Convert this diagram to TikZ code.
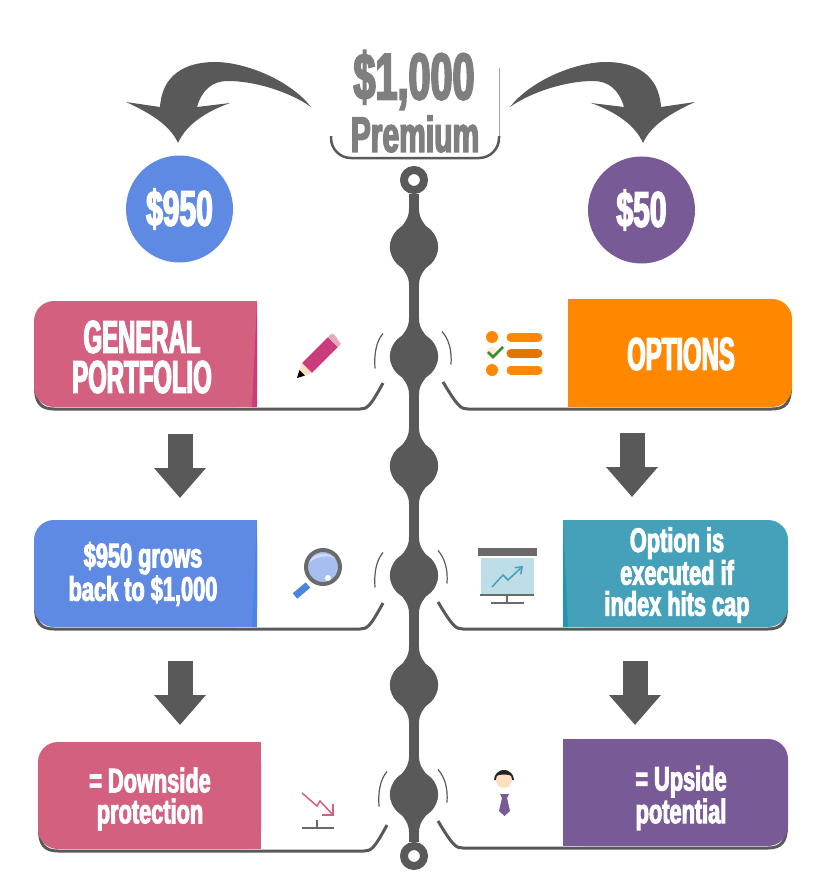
\documentclass[tikz,border=0pt]{standalone}
\usepackage{fontspec}
\usetikzlibrary{arrows.meta,positioning}
\newfontfamily\impact[FakeStretch=0.6,FakeBold=2.8]{Liberation Sans Bold}
\newfontfamily\impactcaps[FakeStretch=0.52,FakeBold=2.8]{Liberation Sans Bold}
\newfontfamily\impactwide[FakeStretch=0.64,FakeBold=2.8]{Liberation Sans Bold}

\definecolor{spinegray}{HTML}{595959}
\definecolor{titlegray}{HTML}{7F7F7F}
\definecolor{rosepanel}{HTML}{D4607F}
\definecolor{rosedark}{HTML}{CB3C7C}
\definecolor{bluepanel}{HTML}{5F8AE3}
\definecolor{bluedark}{HTML}{4A85DF}
\definecolor{orangepanel}{HTML}{FF8800}
\definecolor{tealpanel}{HTML}{45A0BA}
\definecolor{tealdark}{HTML}{1F97AE}
\definecolor{purplepanel}{HTML}{785A96}

% x, right, top, bottom, colour
\newcommand{\leftpanel}[5]{
  \draw[rail] (#1+1.5,#4-20) .. controls (#1+1.5,#4-5) and (#1+6,#4+2) .. (#1+20,#4+2) -- (#2+103,#4+2)
     .. controls (#2+110,#4+2) and (#2+113,#4) .. (#2+126,#4-24);
  \fill[#5,rounded corners=20pt] (#1,#3) rectangle (#2,#4);
  \fill[#5] (#1+30,#3) rectangle (#2,#4);
}
\newcommand{\rightpanel}[5]{
  \draw[rail] (#2-1.5,#4-20) .. controls (#2-1.5,#4-5) and (#2-6,#4+2) .. (#2-20,#4+2) -- (#1-100,#4+2)
     .. controls (#1-107,#4+2) and (#1-110,#4) .. (#1-125,#4-25);
  \fill[#5,rounded corners=20pt] (#1,#3) rectangle (#2,#4);
  \fill[#5] (#1,#3) rectangle (#2-30,#4);
}
% neck of a bead, both ends
\newcommand{\taper}[1]{
  \fill[spinegray] (#1.west) .. controls +(0,-15) and ([shift={(-5,-20)}]#1.center) .. ([shift={(-5,-38)}]#1.center)
     -- ([shift={(5,-38)}]#1.center) .. controls ([shift={(5,-20)}]#1.center) and ([shift={(24,-15)}]#1.center) .. (#1.east)
     .. controls +(0,15) and ([shift={(5,20)}]#1.center) .. ([shift={(5,38)}]#1.center)
     -- ([shift={(-5,38)}]#1.center) .. controls ([shift={(-5,20)}]#1.center) and ([shift={(-24,15)}]#1.center) .. (#1.west);
}
\newcommand{\swoosh}{(311,107) .. controls (290,80) and (245,62) .. (215,62)
   .. controls (185,62) and (162,75) .. (160,107) -- (126,102)
   .. controls (150,113) and (170,125) .. (178,143)
   .. controls (186,125) and (205,112) .. (230,103) -- (197,107)
   .. controls (202,90) and (212,81) .. (228,81)
   .. controls (255,81) and (290,92) .. (311,107) -- cycle}

\begin{document}
\begin{tikzpicture}[x=1pt,y=-1pt,node distance=109.5pt,
                    every node/.style={inner sep=0pt,align=center,text=white}]
  \tikzstyle{bead}=[circle,fill=spinegray,minimum size=48pt]
  \tikzstyle{ring}=[circle,draw=spinegray,line width=8pt,fill=white,minimum size=20pt]
  \tikzstyle{spine}=[draw=spinegray,line width=10pt]
  \tikzstyle{rail}=[draw=spinegray,line width=3pt]
  \tikzstyle{arcline}=[draw=spinegray,line width=1.2pt]
  \tikzstyle{blockarrow}=[draw=spinegray,line width=25pt,-{Triangle[width=50pt,length=30pt,fill=spinegray]}]
  \tikzstyle{bigtext}=[font=\impactcaps\fontsize{46}{40}\selectfont]
  \tikzstyle{smalltext}=[font=\impactwide\fontsize{34}{31}\selectfont]
  \tikzstyle{money}=[circle,minimum size=107pt,font=\impact\fontsize{50}{50}\selectfont]

  \useasboundingbox (0,0) rectangle (834,878);

  % top of the figure
  \draw[draw=titlegray!70,line width=0.8pt] (499,68) -- (499,140);
  \draw[rail,line width=2.5pt,rounded corners=20pt] (331,136) -- (331,158) -- (499,158) -- (499,136);
  \node[text=titlegray,font=\impact\fontsize{66}{66}\selectfont] (thousand) at (414,80) {\$1,000};
  \node[text=titlegray,font=\impact\fontsize{50}{50}\selectfont] (premium) at (415,134) {Premium};
  \fill[spinegray] \swoosh;
  \fill[spinegray,shift={(821,0)},xscale=-1] \swoosh;
  \node[money,fill=bluepanel] (share) at (179.5,209) {\$950};
  \node[money,fill=purplepanel] (cost) at (641.5,210) {\$50};

  % timeline
  \node[ring] (top) at (414,180) {};
  \node[bead] (B1) at (414,247) {};
  \node[bead] (B2) [below of=B1] {};
  \node[bead] (B3) [below of=B2] {};
  \node[bead] (B4) [below of=B3] {};
  \node[bead] (B5) [below of=B4] {};
  \node[bead] (B6) [below of=B5] {};
  \node[ring] (bottom) at (414,856) {};
  \taper{B1} \taper{B2} \taper{B3} \taper{B4} \taper{B5} \taper{B6}
  \path (top) edge[spine] (B1)
        (B1) edge[spine] (B2)
        (B2) edge[spine] (B3)
        (B3) edge[spine] (B4)
        (B4) edge[spine] (B5)
        (B5) edge[spine] (B6)
        (B6) edge[spine] (bottom);

  % arcs beside the beads
  \draw[arcline] ([shift={(-31,-23)}]B2.center) .. controls +(-7,8) and +(-1,-14) .. +(-8,35);
  \draw[arcline] ([shift={(-31,-23)}]B4.center) .. controls +(-7,8) and +(-1,-14) .. +(-8,35);
  \draw[arcline] ([shift={(-27,-23)}]B6.center) .. controls +(-7,8) and +(-1,-14) .. +(-8,35);
  \draw[arcline] ([shift={(28,-25)}]B2.center) .. controls +(7,8) and +(1,-14) .. +(9,33);
  \draw[arcline] ([shift={(24,-25)}]B4.center) .. controls +(7,8) and +(1,-14) .. +(9,33);
  \draw[arcline] ([shift={(24,-25)}]B6.center) .. controls +(7,8) and +(1,-14) .. +(9,33);

  % panels
  \leftpanel{34}{257}{301}{407}{rosepanel}
  \fill[rosedark] (257,301) -- (257,407) -- (252,407) -- cycle;
  \leftpanel{34}{257}{520}{627}{bluepanel}
  \fill[bluedark] (257,520) -- (257,627) -- (252,627) -- cycle;
  \leftpanel{38}{261}{742}{849}{rosepanel}
  \rightpanel{568}{792}{299}{407}{orangepanel}
  \rightpanel{563}{788}{520}{627}{tealpanel}
  \fill[tealdark] (563,520) -- (563,627) -- (568,627) -- cycle;
  \rightpanel{563}{788}{739}{846}{purplepanel}

  \node[bigtext] (general) at (142,357) {GENERAL\\PORTFOLIO};
  \node[bigtext] (options) at (681,354) {OPTIONS};
  \node[smalltext] (grows) at (143,574) {\$950 grows\\back to \$1,000};
  \node[smalltext] (executed) at (677,575) {Option is\\executed if\\index hits cap};
  \node[smalltext] (downside) at (150,799) {= Downside\\protection};
  \node[smalltext] (upside) at (681,798) {= Upside\\potential};

  \path ([shift={(38,77)}]general.center) edge[blockarrow] ([shift={(37,-76)}]grows.center)
        ([shift={(-49,79)}]options.center) edge[blockarrow] ([shift={(-45,-78)}]executed.center)
        ([shift={(37,87)}]grows.center) edge[blockarrow] ([shift={(30,-74)}]downside.center)
        ([shift={(-42,86)}]executed.center) edge[blockarrow] ([shift={(-46,-73)}]upside.center);

  % pencil
  \draw[rosedark,line width=14pt] (307,368) -- (333,342);
  \draw[rosepanel!55,line width=14pt] (333,342) -- (336,339);
  \fill[rosepanel!55] (336,339) ++(-5,-5) .. controls +(3,-3) and +(-3,-3) .. +(10,10) -- cycle;
  \fill[orange!25] (302,363) -- (312,373) -- (297,378) -- cycle;
  \fill[black] (299.5,370) -- (305,375.5) -- (297,378) -- cycle;

  % checklist
  \fill[orangepanel] (492,337) circle (6);
  \fill[orange!15] (492,353) circle (6);
  \fill[orangepanel] (492,370) circle (6);
  \draw[orangepanel,line width=9pt,line cap=round] (511,337) -- (538,337);
  \draw[orange!90!black,line width=9pt,line cap=round] (511,353) -- (538,353);
  \draw[orangepanel,line width=9pt,line cap=round] (511,370) -- (538,370);
  \draw[green!45!black!80,line width=2.5pt] (488,352) -- (493,357) -- (503,347);

  % magnifier
  \draw[bluedark,line width=7pt] (308,585) -- (295,596);
  \draw[draw=spinegray!90,fill=bluepanel!55,line width=4pt] (323,567) circle (17);
  \fill[bluepanel!30] (309,563) .. controls (312,553) and (327,551) .. (335,558) .. controls (327,555) and (316,556) .. (309,563);
  \fill[white] (328,578) circle (3);

  % screen
  \fill[spinegray!90] (478,548) rectangle (537,556);
  \fill[tealpanel!35] (481,558) rectangle (534,594);
  \fill[spinegray!90] (480,594) rectangle (534,596);
  \fill[spinegray!90] (506,596) rectangle (508,602);
  \fill[spinegray!90] (491,602) rectangle (524,604);
  \draw[tealpanel,line width=1.5pt,-{Straight Barb[length=6pt,width=9pt]}] (492,587) -- (503,575) -- (508,580) -- (523,566);

  % falling chart
  \draw[rosepanel,line width=1.5pt] (302,793) -- (317,806) -- (320,801) -- (333,815);
  \draw[rosepanel,line width=1.5pt] (333,804) -- (333,815) -- (322,815);
  \draw[spinegray!90,line width=2pt] (302,828) -- (334,828);
  \draw[spinegray!90,line width=1.5pt] (317,820) -- (317,828);

  % man
  \fill[black!85] (494,780) arc (180:360:10) -- cycle;
  \fill[orange!25] (504,780) circle (8);
  \fill[black!85] (496,776) .. controls (500,774) and (508,774) .. (512,776) .. controls (509,768) and (499,768) .. (496,776);
  \fill[purplepanel] (500,794) -- (509,794) -- (507,798) -- (510,811) -- (504.5,816) -- (499,811) -- (502,798) -- cycle;
\end{tikzpicture}
\end{document}
